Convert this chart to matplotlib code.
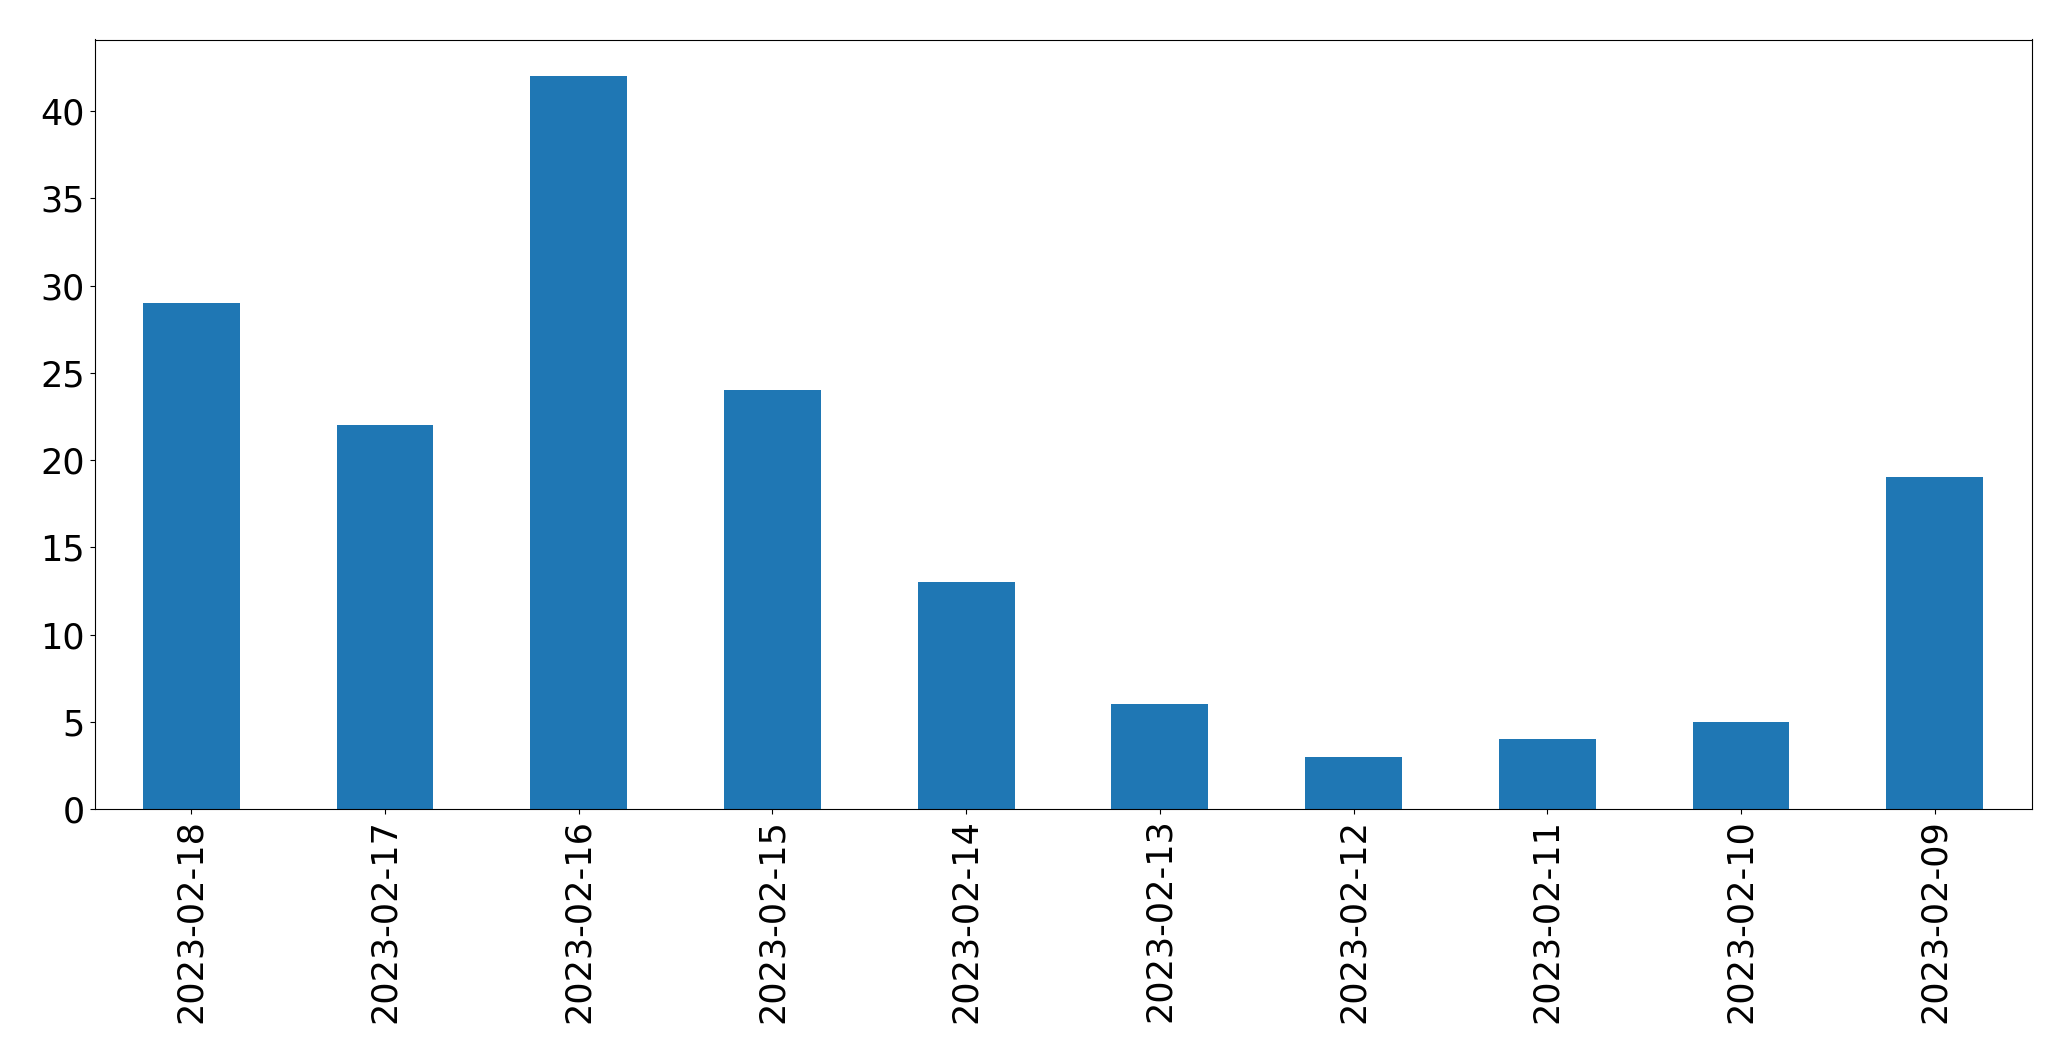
import matplotlib
matplotlib.use("Agg")
import matplotlib.pyplot as plt

dates = ["2023-02-18", "2023-02-17", "2023-02-16", "2023-02-15", "2023-02-14",
         "2023-02-13", "2023-02-12", "2023-02-11", "2023-02-10", "2023-02-09"]
counts = [29, 22, 42, 24, 13, 6, 3, 4, 5, 19]

fig = plt.figure(figsize=(20.71, 10.61), dpi=100)
ax = fig.add_axes([94.5 / 2071, 1 - 809 / 1061, (2031.5 - 94.5) / 2071, (809 - 39.5) / 1061])

x = range(len(dates))
ax.bar(x, counts, width=0.5, color="#1f77b4")
ax.set_xlim(-0.5, len(dates) - 0.5)
ax.set_xticks(list(x))
ax.set_xticklabels(dates, rotation=90)
ax.tick_params(labelsize=25.2)

fig.savefig("out.png", dpi=100)
